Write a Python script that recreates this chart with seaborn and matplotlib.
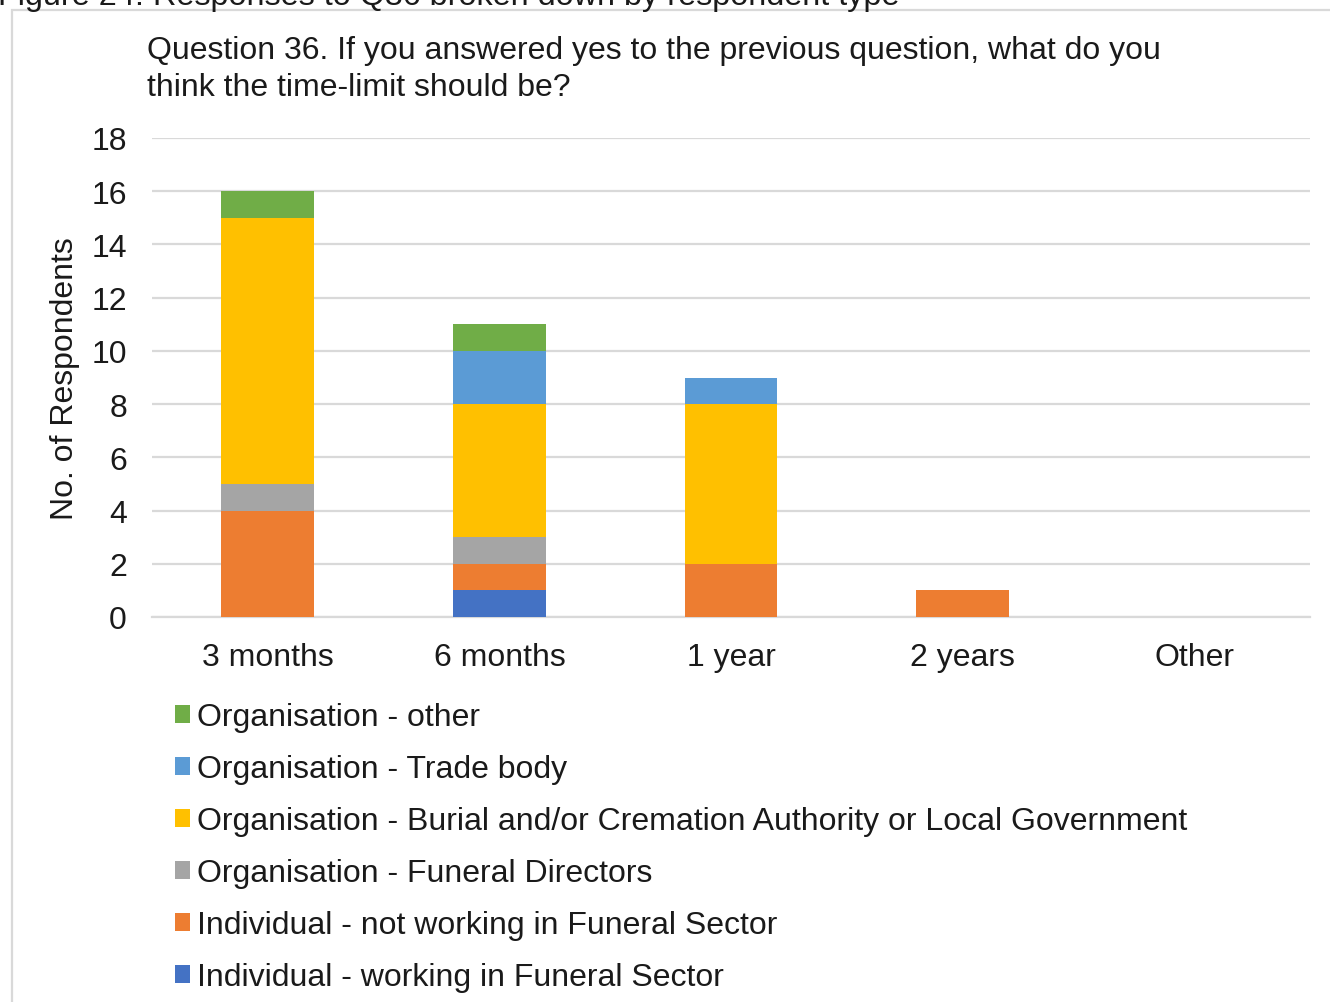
import matplotlib
matplotlib.use("Agg")
import matplotlib.pyplot as plt
from matplotlib.patches import Rectangle, Patch
import seaborn as sns
import pandas as pd
import numpy as np

sns.set_theme(style="white")
plt.rcParams["font.family"] = ["Liberation Sans", "DejaVu Sans"]

# Response categories and counts per respondent type (stacked bottom to top)
categories = ["3 months", "6 months", "1 year", "2 years", "Other"]
series_names = [
    "Individual - working in Funeral Sector",
    "Individual - not working in Funeral Sector",
    "Organisation - Funeral Directors",
    "Organisation - Burial and/or Cremation Authority or Local Government",
    "Organisation - Trade body",
    "Organisation - other",
]
ind_working = [0, 1, 0, 0, 0]
ind_not_working = [4, 1, 2, 1, 0]
org_funeral_directors = [1, 1, 0, 0, 0]
org_burial_cremation = [10, 5, 6, 0, 0]
org_trade_body = [0, 2, 1, 0, 0]
org_other = [1, 1, 0, 0, 0]
series_values = [ind_working, ind_not_working, org_funeral_directors,
                 org_burial_cremation, org_trade_body, org_other]
colors = ["#4472C4", "#ED7D31", "#A5A5A5", "#FFC000", "#5B9BD5", "#70AD47"]
y_ticks = [0, 2, 4, 6, 8, 10, 12, 14, 16, 18]

W, H = 1330, 1003
fig = plt.figure(figsize=(W / 100, H / 100), dpi=100)
ax = fig.add_axes([152 / W, 1 - 618 / H, (1310 - 152) / W, (618 - 139) / H])

# Stacked bars
bottom = np.zeros(len(categories))
for name, vals, col in zip(series_names, series_values, colors):
    df = pd.DataFrame({"category": categories, "count": vals})
    sns.barplot(data=df, x="category", y="count", order=categories, color=col,
                bottom=bottom, width=0.4, ax=ax, errorbar=None,
                saturation=1, edgecolor="none", linewidth=0, zorder=3)
    bottom = bottom + np.array(vals)

ax.set_ylim(0, 18)
ax.set_xlim(-0.5, len(categories) - 0.5)
ax.set_yticks(y_ticks)
ax.yaxis.grid(True, color="#D9D9D9", linewidth=1.6, zorder=0)
ax.xaxis.grid(False)
for s in ["top", "right", "left"]:
    ax.spines[s].set_visible(False)
ax.spines["bottom"].set_color("#D9D9D9")
ax.spines["bottom"].set_linewidth(1.6)
ax.spines["bottom"].set_zorder(2)
ax.tick_params(axis="both", length=0, labelsize=23, colors="#1A1A1A")
ax.tick_params(axis="y", pad=18)
ax.tick_params(axis="x", pad=18)
ax.set_xlabel("")
ax.set_ylabel("No. of Respondents", fontsize=23, color="#1A1A1A",
              va="center")
ax.yaxis.set_label_coords(-0.0751, 0.5)

# Chart title
fig.text(147 / W, 1 - 51 / H,
         "Question 36. If you answered yes to the previous question, what do you",
         fontsize=23, va="center", ha="left", color="#1A1A1A")
fig.text(147 / W, 1 - 88 / H, "think the time-limit should be?",
         fontsize=23, va="center", ha="left", color="#1A1A1A")

# Figure caption (partly above the page edge)
fig.text(-2 / W, 1 - 5 / H,
         "Figure 24: Responses to Q36 broken down by respondent type",
         fontsize=23.3, va="baseline", ha="left", color="#1A1A1A")

# Chart area border
fig.patches.append(Rectangle((12 / W, -0.05), 1.2, 1 - 11 / H + 0.05,
                             transform=fig.transFigure, fill=False,
                             edgecolor="#D9D9D9", linewidth=1.6))

# Legend (top entry is the top of the stack)
handles = [Patch(facecolor=c, edgecolor="none") for c in colors][::-1]
labels = series_names[::-1]
leg = fig.legend(handles, labels, loc="upper left",
                 bbox_to_anchor=(175 / W, 1 - 703 / H),
                 frameon=False, fontsize=23, handlelength=0.48,
                 handleheight=0.48, handletextpad=0.22, labelspacing=0.69,
                 borderaxespad=0, borderpad=0, labelcolor="#1A1A1A")

fig.savefig("out.png", dpi=100)
